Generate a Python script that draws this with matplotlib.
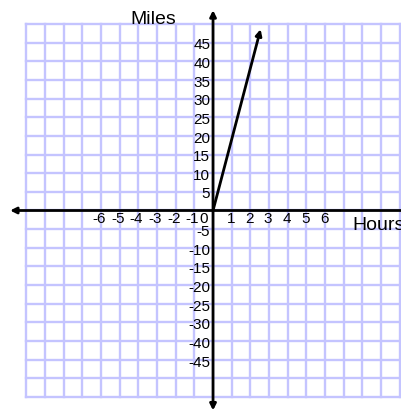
import matplotlib.pyplot as plt

plt.rcParams['font.family'] = ['Liberation Sans', 'DejaVu Sans']

# data
hours = [0, 2.55]
miles = [0, 48.6]

x_pos_ticks = [1, 2, 3, 4, 5, 6]
x_neg_ticks = [-6, -5, -4, -3, -2, -1]
y_pos_ticks = [45, 40, 35, 30, 25, 20, 15, 10, 5]
# the original skips -35, so labels sit one row off below -30
y_neg_rows = [-5, -10, -15, -20, -25, -30, -35, -40]
y_neg_labels = ['-5', '-10', '-15', '-20', '-25', '-30', '-40', '-45']

fig = plt.figure(figsize=(4.02, 4.11), dpi=100)
ax = fig.add_axes([0, 0, 1, 1])
ax.set_xlim(-11.42, 10.13)
ax.set_ylim(-53.75, 56.43)
ax.axis('off')

# lavender grid, 1 hour x 5 miles per cell
grid_col = '#c4c4ff'
for k in range(-10, 11):
    ax.plot([k, k], [-50, 50], color=grid_col, lw=1.7, zorder=1)
    ax.plot([-10, 10], [5 * k, 5 * k], color=grid_col, lw=1.7, zorder=1)

# axes with arrows
ax.annotate('', xy=(0, 53.7), xytext=(0, -53.6),
            arrowprops=dict(arrowstyle='<|-|>', lw=2, color='black',
                            mutation_scale=9, shrinkA=0, shrinkB=0), zorder=3)
ax.annotate('', xy=(-10.88, 0), xytext=(10.6, 0),
            arrowprops=dict(arrowstyle='-|>', lw=2, color='black',
                            mutation_scale=9, shrinkA=0, shrinkB=0), zorder=3)

# the distance line
ax.annotate('', xy=(hours[1], miles[1]), xytext=(hours[0], miles[0]),
            arrowprops=dict(arrowstyle='-|>', lw=2, color='black',
                            mutation_scale=9, shrinkA=0, shrinkB=0), zorder=4)

# tick labels
fs = 11
for h in x_pos_ticks:
    ax.text(h - 0.05, -2.3, str(h), ha='center', va='center', fontsize=fs)
for h in x_neg_ticks:
    ax.text(h + 0.25, -2.3, str(h), ha='right', va='center', fontsize=fs)
ax.text(-0.5, -2.3, '0', ha='center', va='center', fontsize=fs)
for m in y_pos_ticks:
    ax.text(-0.15, m - 0.7, str(m), ha='right', va='center', fontsize=fs)
for m, lab in zip(y_neg_rows, y_neg_labels):
    ax.text(-0.15, m - 0.8, lab, ha='right', va='center', fontsize=fs)

ax.text(-3.22, 51.2, 'Miles', ha='center', va='center', fontsize=14)
ax.text(7.45, -4.0, 'Hours', ha='left', va='center', fontsize=14)

fig.savefig('out.png', dpi=100)
